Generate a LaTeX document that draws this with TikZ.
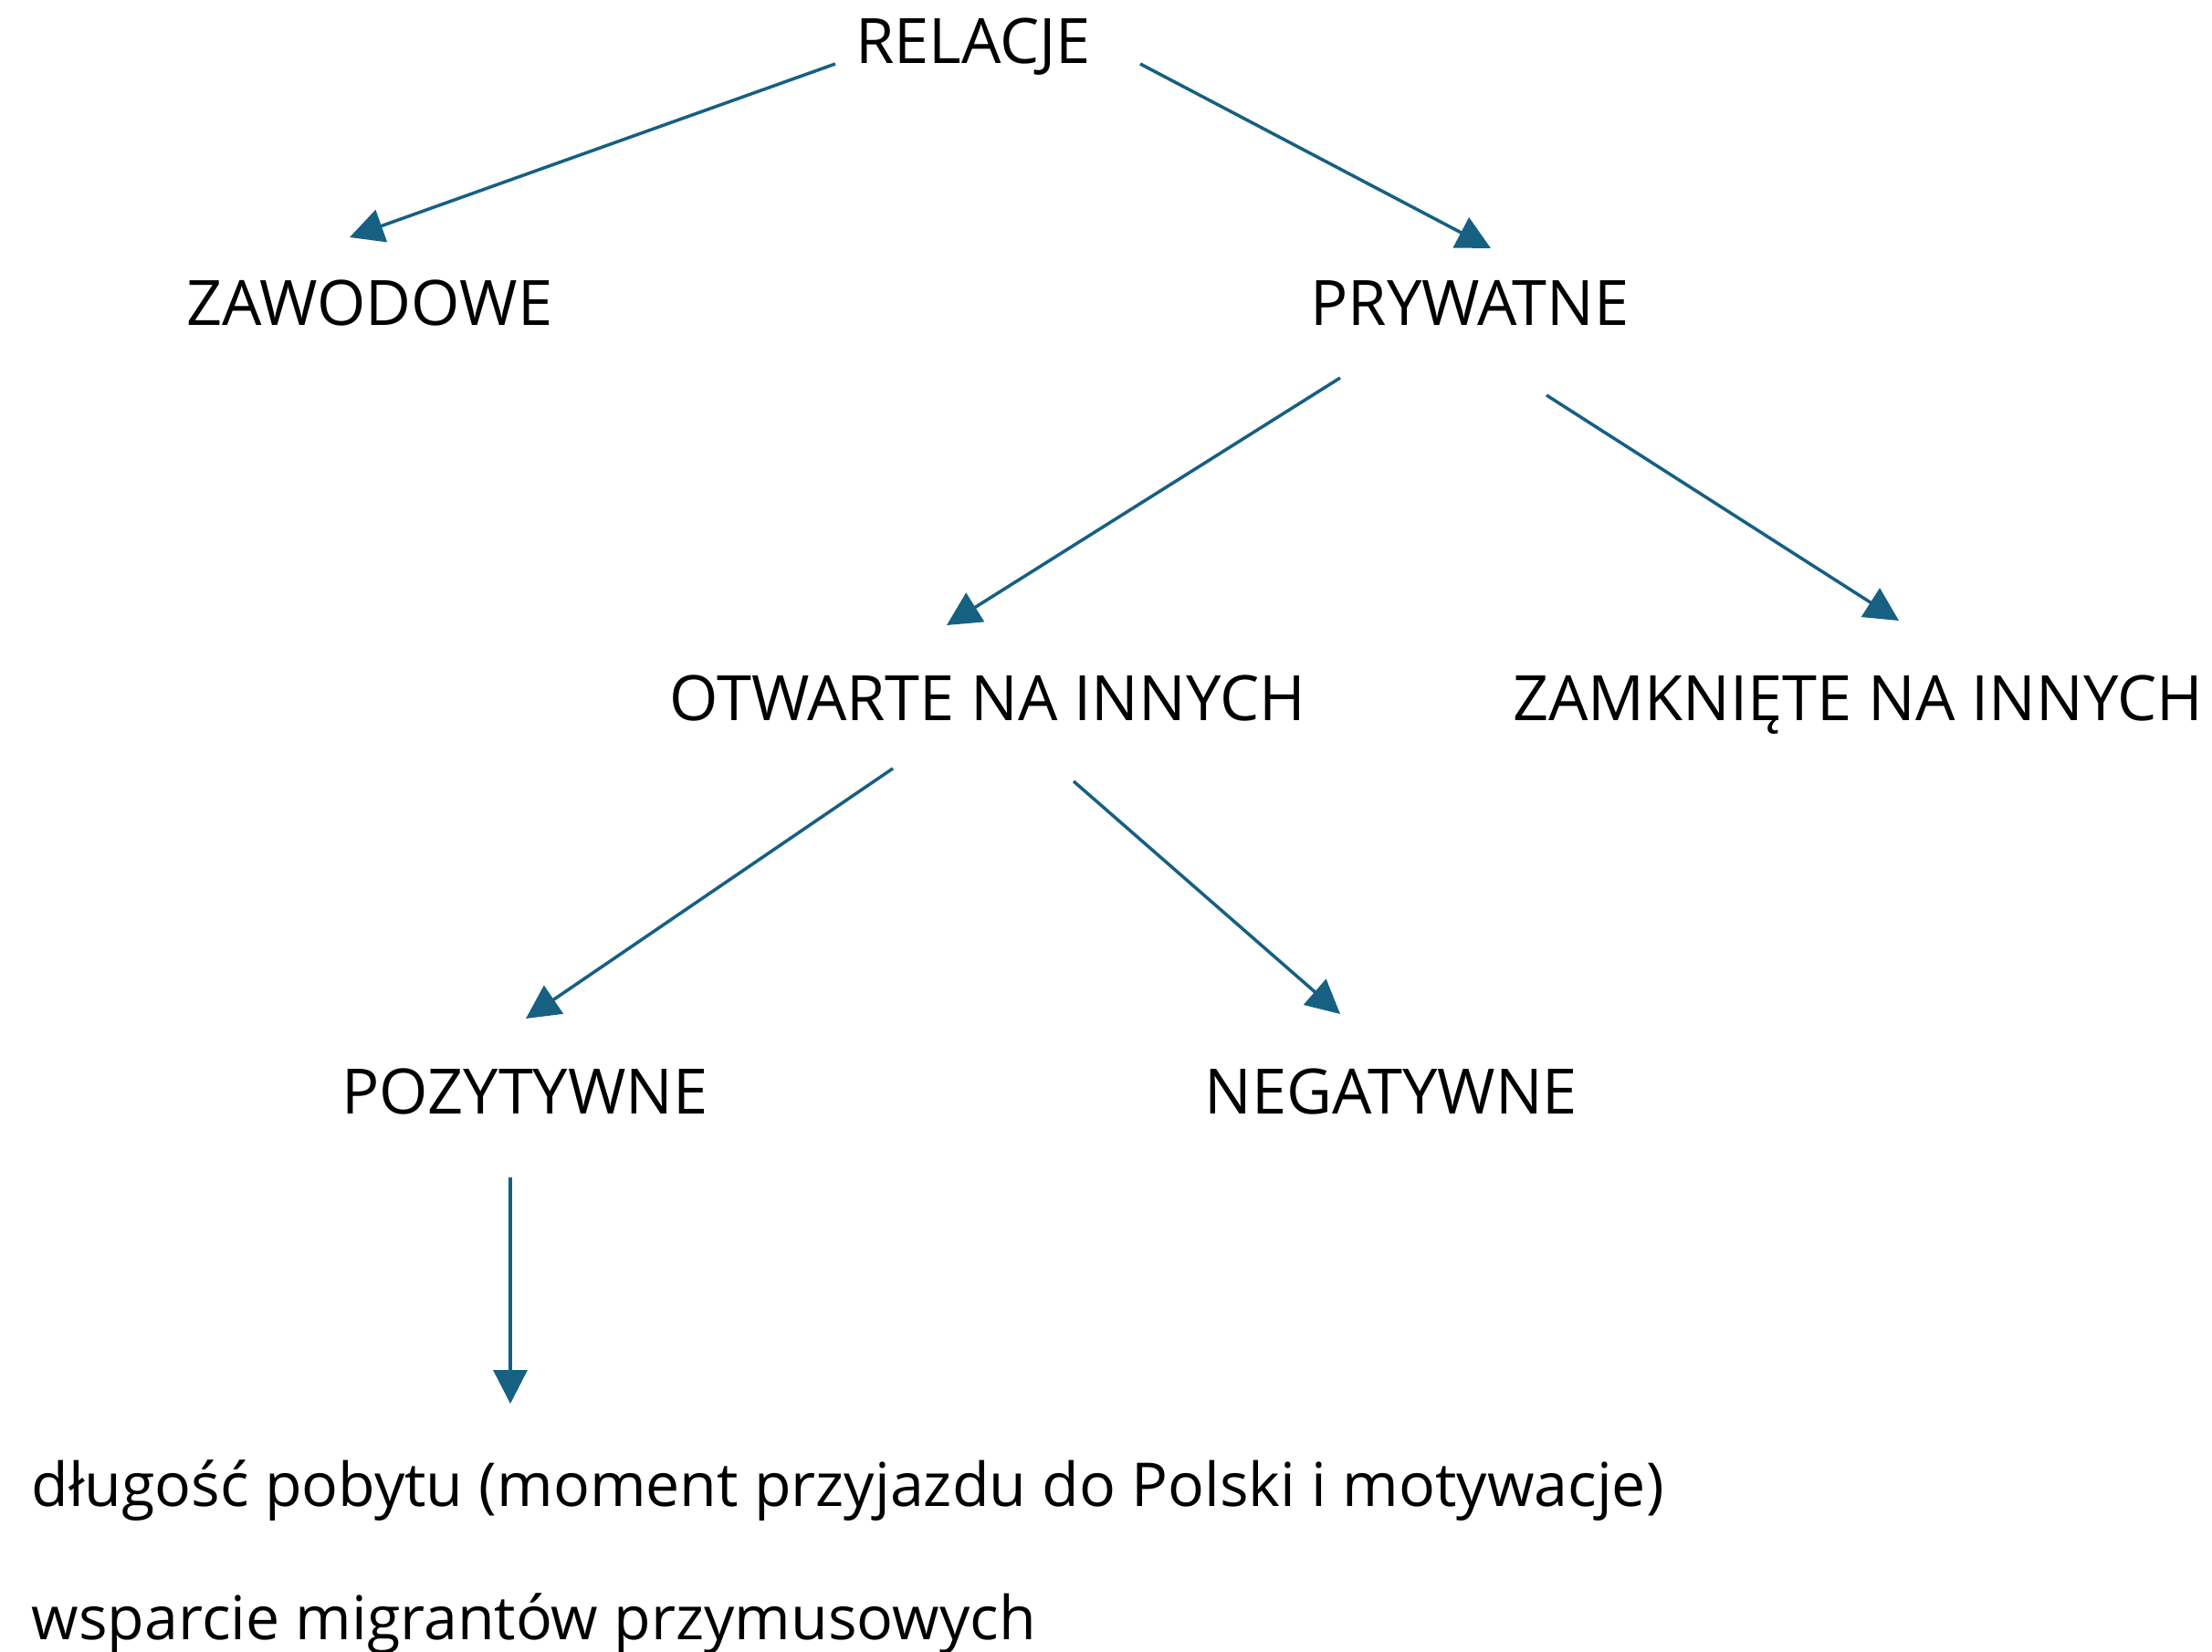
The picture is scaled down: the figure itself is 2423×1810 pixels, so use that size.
\documentclass[tikz,border=0pt]{standalone}
\usepackage{fontspec}
\setmainfont{Open Sans}
\usetikzlibrary{arrows.meta}
\definecolor{strzalka}{RGB}{22,96,130}
\tikzset{
  etykieta/.style={font=\fontsize{19.5}{23}\selectfont, anchor=base},
  opis/.style={font=\fontsize{18.85}{23}\selectfont, anchor=base west, inner sep=0pt},
  strz/.style={draw=strzalka, line width=1pt, -{Triangle[length=10.5pt,width=10.5pt]}}
}
\begin{document}
\begin{tikzpicture}[x=0.01cm, y=-0.01cm]
  \useasboundingbox (0,0) rectangle (2423,1810);

  % poziomy drzewa
  \node[etykieta] (relacje) at (1066,70) {RELACJE};
  \node[etykieta] (zawodowe) at (405,357) {ZAWODOWE};
  \node[etykieta] (prywatne) at (1610,357) {PRYWATNE};
  \node[etykieta] (otwarte) at (1082,790) {OTWARTE NA INNYCH};
  \node[etykieta] (zamkniete) at (2035,790) {ZAMKNIĘTE NA INNYCH};
  \node[etykieta] (pozytywne) at (575,1221) {POZYTYWNE};
  \node[etykieta] (negatywne) at (1524,1221) {NEGATYWNE};
  \node[opis] (pobyt) at (34,1650) {długość pobytu (moment przyjazdu do Polski i motywacje)};
  \node[opis] (wsparcie) at (34,1796) {wsparcie migrantów przymusowych};

  % konce strzalek
  \coordinate (relacje-l) at (915,70);
  \coordinate (relacje-p) at (1249,70);
  \coordinate (zawodowe-we) at (383,260);
  \coordinate (prywatne-we) at (1633,272);
  \coordinate (prywatne-l) at (1468,414);
  \coordinate (prywatne-p) at (1694,433);
  \coordinate (otwarte-we) at (1037,685);
  \coordinate (zamkniete-we) at (2080,680);
  \coordinate (otwarte-l) at (978,842);
  \coordinate (otwarte-p) at (1176,856);
  \coordinate (pozytywne-we) at (576,1116);
  \coordinate (negatywne-we) at (1468,1111);
  \coordinate (pozytywne-d) at (559,1290);
  \coordinate (pobyt-we) at (559,1538);

  \draw[strz] (relacje-l) -- (zawodowe-we);
  \draw[strz] (relacje-p) -- (prywatne-we);
  \draw[strz] (prywatne-l) -- (otwarte-we);
  \draw[strz] (prywatne-p) -- (zamkniete-we);
  \draw[strz] (otwarte-l) -- (pozytywne-we);
  \draw[strz] (otwarte-p) -- (negatywne-we);
  \draw[strz] (pozytywne-d) -- (pobyt-we);
\end{tikzpicture}
\end{document}
